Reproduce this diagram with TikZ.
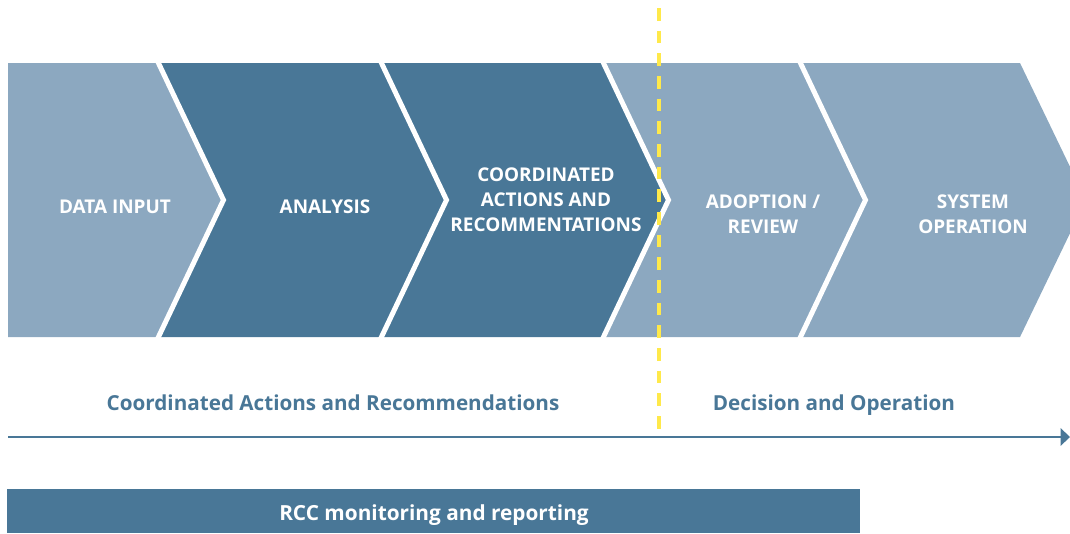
\documentclass[tikz,border=0pt]{standalone}
\usepackage{fontspec}
\setmainfont{Open Sans}
\usetikzlibrary{arrows.meta}

\definecolor{chevlight}{RGB}{140,168,192}
\definecolor{chevdark}{RGB}{73,119,151}
\definecolor{splitline}{RGB}{255,233,74}

\tikzset{every picture/.style={line width=0.75pt}}
\tikzset{
  chevtext/.style={text=white,align=center,font=\fontsize{14.2}{18.75}\selectfont\bfseries},
  phasetext/.style={text=chevdark,anchor=base,font=\fontsize{15.5}{18}\selectfont\bfseries},
  bartext/.style={text=white,anchor=base,font=\fontsize{15.6}{18}\selectfont\bfseries},
  timeline/.style={draw=chevdark,line width=1.2pt,-{Triangle[length=7pt,width=13pt]}},
  splitdash/.style={draw=splitline,line width=3pt,dash pattern=on 9.5pt off 7.5pt}
}

\begin{document}
\begin{tikzpicture}[x=0.75pt,y=0.75pt,yscale=-1,xscale=1]
\useasboundingbox (0,0) rectangle (1070,533);
\clip (0,0) rectangle (1070,533);

%Shape: Chevron [id:data]
\fill [chevlight] (8,63) -- (157.5,63) -- (223.5,200) -- (157.5,337) -- (8,337) -- cycle ;
%Shape: Chevron [id:analysis]
\fill [chevdark] (157.5,63) -- (380.5,63) -- (446.5,200) -- (380.5,337) -- (157.5,337) -- (223.5,200) -- cycle ;
%Shape: Chevron [id:coordinated]
\fill [chevdark] (380.5,63) -- (602.5,63) -- (668.5,200) -- (602.5,337) -- (380.5,337) -- (446.5,200) -- cycle ;
%Shape: Chevron [id:adoption]
\fill [chevlight] (602.5,63) -- (799.5,63) -- (865.5,200) -- (799.5,337) -- (602.5,337) -- (668.5,200) -- cycle ;
%Shape: Chevron [id:system]
\fill [chevlight] (799.5,63) -- (1020,63) -- (1086,200) -- (1020,337) -- (799.5,337) -- (865.5,200) -- cycle ;
%Straight Lines [id:gaps]
\draw [white,line width=3.75pt,line join=miter]  (157.5,61) -- (223.5,200) -- (157.5,339) ;
\draw [white,line width=3.75pt,line join=miter]  (380.5,61) -- (446.5,200) -- (380.5,339) ;
\draw [white,line width=3.75pt,line join=miter]  (602.5,61) -- (668.5,200) -- (602.5,339) ;
\draw [white,line width=3.75pt,line join=miter]  (799.5,61) -- (865.5,200) -- (799.5,339) ;

%Shape: Rectangle [id:rccbar]
\fill [chevdark] (7,489) -- (860,489) -- (860,533) -- (7,533) -- cycle ;

%Straight Lines [id:timeline]
\coordinate (tlstart) at (8,437) ;
\coordinate (tlend) at (1070,437) ;
\draw [timeline]  (tlstart) -- (tlend) ;

%Straight Lines [id:split]
\coordinate (splittop) at (659,8) ;
\coordinate (splitbot) at (659,436) ;
\draw [splitdash]  (splittop) -- (splitbot) ;

% Text Node
\draw (115,207) node (datainput) [chevtext] {DATA INPUT};
% Text Node
\draw (325,207) node (analysis) [chevtext] {ANALYSIS};
% Text Node
\draw (546,200) node (coordinated) [chevtext] {COORDINATED\\ACTIONS AND\\RECOMMENTATIONS};
% Text Node
\draw (763,214) node (adoption) [chevtext] {ADOPTION /\\REVIEW};
% Text Node
\draw (973,214) node (system) [chevtext] {SYSTEM\\OPERATION};
% Text Node
\draw (333,410.5) node (phaseone) [phasetext] {Coordinated Actions and Recommendations};
% Text Node
\draw (834,410.5) node (phasetwo) [phasetext] {Decision and Operation};
% Text Node
\draw (434,520.5) node (rcc) [bartext] {RCC monitoring and reporting};

\end{tikzpicture}
\end{document}
